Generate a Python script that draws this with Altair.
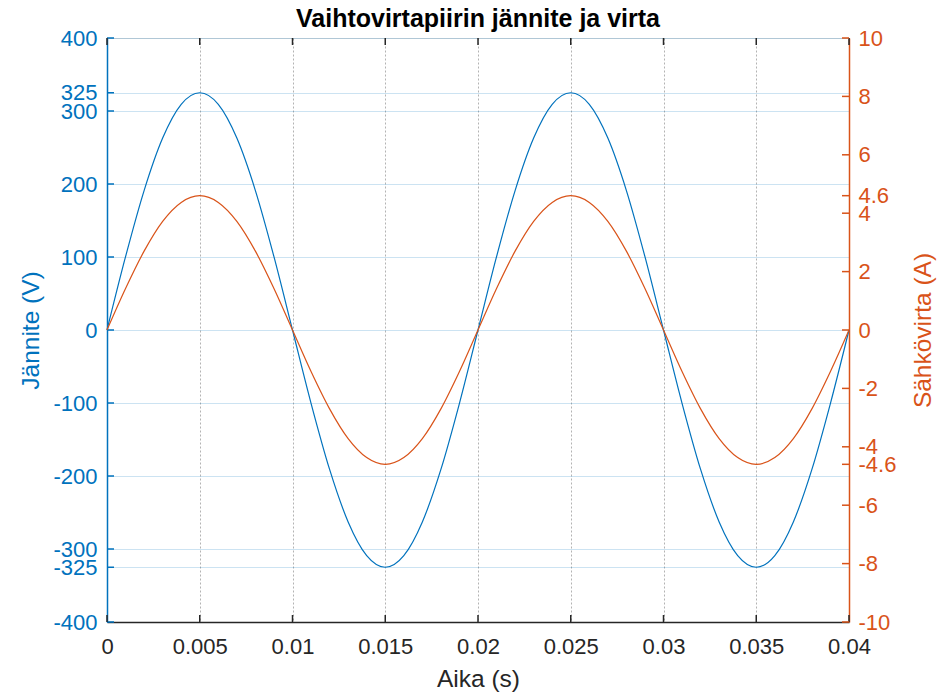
import altair as alt
import pandas as pd

time_s = [0.000, 0.001, 0.002, 0.003, 0.004, 0.005, 0.006, 0.007, 0.008, 0.009,
          0.010, 0.011, 0.012, 0.013, 0.014, 0.015, 0.016, 0.017, 0.018, 0.019,
          0.020, 0.021, 0.022, 0.023, 0.024, 0.025, 0.026, 0.027, 0.028, 0.029,
          0.030, 0.031, 0.032, 0.033, 0.034, 0.035, 0.036, 0.037, 0.038, 0.039,
          0.040]
voltage_v = [0, 100.4, 191.0, 262.9, 309.1, 325, 309.1, 262.9, 191.0, 100.4,
             0, -100.4, -191.0, -262.9, -309.1, -325, -309.1, -262.9, -191.0, -100.4,
             0, 100.4, 191.0, 262.9, 309.1, 325, 309.1, 262.9, 191.0, 100.4,
             0, -100.4, -191.0, -262.9, -309.1, -325, -309.1, -262.9, -191.0, -100.4,
             0]
current_a = [0, 1.42, 2.70, 3.72, 4.37, 4.6, 4.37, 3.72, 2.70, 1.42,
             0, -1.42, -2.70, -3.72, -4.37, -4.6, -4.37, -3.72, -2.70, -1.42,
             0, 1.42, 2.70, 3.72, 4.37, 4.6, 4.37, 3.72, 2.70, 1.42,
             0, -1.42, -2.70, -3.72, -4.37, -4.6, -4.37, -3.72, -2.70, -1.42,
             0]

x_ticks = [0, 0.005, 0.01, 0.015, 0.02, 0.025, 0.03, 0.035, 0.04]
left_ticks = [-400, -325, -300, -200, -100, 0, 100, 200, 300, 325, 400]
right_ticks = [-10, -8, -6, -4.6, -4, -2, 0, 2, 4, 4.6, 6, 8, 10]

BLUE = "#0072BD"
ORANGE = "#D95319"
DARK = "#262626"
FONT = "Liberation Sans"
W, H = 742, 584
TL = 7  # inward tick length
LFS = 22  # tick label font size
TFS = 24.5  # axis title font size

df = pd.DataFrame({"t": time_s, "u": voltage_v, "i": current_a})
df_xt = pd.DataFrame({"t": x_ticks})
df_lt = pd.DataFrame({"u": left_ticks})
df_rt = pd.DataFrame({"i": right_ticks})

xscale = alt.Scale(domain=[0, 0.04], nice=False, zero=False)
lscale = alt.Scale(domain=[-400, 400], nice=False, zero=False)
rscale = alt.Scale(domain=[-10, 10], nice=False, zero=False)

x_axis = alt.Axis(
    values=x_ticks, labelExpr="'' + datum.value", title="Aika (s)",
    ticks=False, tickSize=0, labelPadding=14, labelFontSize=LFS, labelColor=DARK,
    labelFont=FONT, labelFlush=False, labelOverlap=False,
    domainColor=DARK, domainWidth=1.5,
    grid=True, gridColor=DARK, gridOpacity=0.35, gridDash=[2, 2], gridWidth=1,
    titleFont=FONT, titleFontSize=TFS, titleFontWeight="normal", titleColor=DARK,
    titlePadding=10,
)
left_axis = alt.Axis(
    values=left_ticks, labelExpr="'' + datum.value", title="Jännite (V)",
    ticks=False, tickSize=0, labelPadding=10, labelFontSize=LFS, labelColor=BLUE,
    labelFont=FONT, labelFlush=False, labelOverlap=False,
    domainColor=BLUE, domainWidth=1.5,
    grid=True, gridColor=BLUE, gridOpacity=0.4, gridDash=[1, 1], gridWidth=1,
    titleFont=FONT, titleFontSize=TFS, titleFontWeight="normal", titleColor=BLUE,
    titlePadding=9,
)
right_axis = alt.Axis(
    values=right_ticks, labelExpr="'' + datum.value", title="Sähkövirta (A)",
    orient="right",
    ticks=False, tickSize=0, labelPadding=9, labelFontSize=LFS, labelColor=ORANGE,
    labelFont=FONT, labelFlush=False, labelOverlap=False,
    domainColor=ORANGE, domainWidth=1.5, grid=False,
    titleFont=FONT, titleFontSize=TFS, titleFontWeight="normal", titleColor=ORANGE,
    titlePadding=16, titleAngle=270, titleBaseline="top",
)

X = alt.X("t:Q", scale=xscale, axis=x_axis)
YL = alt.Y("u:Q", scale=lscale, axis=left_axis)
YR = alt.Y("i:Q", scale=rscale, axis=right_axis)

volt_line = alt.Chart(df).mark_line(color=BLUE, strokeWidth=1.2, interpolate="monotone").encode(
    x=X, y=YL,
)
curr_line = alt.Chart(df).mark_line(color=ORANGE, strokeWidth=1.2, interpolate="monotone").encode(
    x=X, y=YR,
)

left_tick_marks = alt.Chart(df_lt).mark_rule(color=BLUE, strokeWidth=1.5).encode(
    y=YL, x=alt.value(0), x2=alt.value(TL),
)
right_tick_marks = alt.Chart(df_rt).mark_rule(color=ORANGE, strokeWidth=1.5).encode(
    y=YR, x=alt.value(W - TL), x2=alt.value(W),
)
bottom_tick_marks = alt.Chart(df_xt).mark_rule(color=DARK, strokeWidth=1.5).encode(
    x=X, y=alt.value(H - TL), y2=alt.value(H),
)
top_tick_marks = alt.Chart(df_xt).mark_rule(color=DARK, strokeWidth=1.5).encode(
    x=X, y=alt.value(0), y2=alt.value(TL),
)

left = alt.layer(volt_line, left_tick_marks, bottom_tick_marks, top_tick_marks)
right = alt.layer(curr_line, right_tick_marks)

chart = alt.layer(left, right).resolve_scale(y="independent").properties(
    width=W, height=H,
    title=alt.TitleParams(
        "Vaihtovirtapiirin jännite ja virta", font=FONT, fontSize=25,
        fontWeight="bold", color="#000000", anchor="middle", frame="group",
        offset=0, dy=5,
    ),
    autosize=alt.AutoSizeParams(type="none"),
    padding={"left": 107, "top": 38, "right": 101, "bottom": 72},
).configure_view(stroke=DARK, strokeWidth=1.5).configure(background="white")

chart.save("out.html", embed_options={"renderer": "svg", "actions": False})
